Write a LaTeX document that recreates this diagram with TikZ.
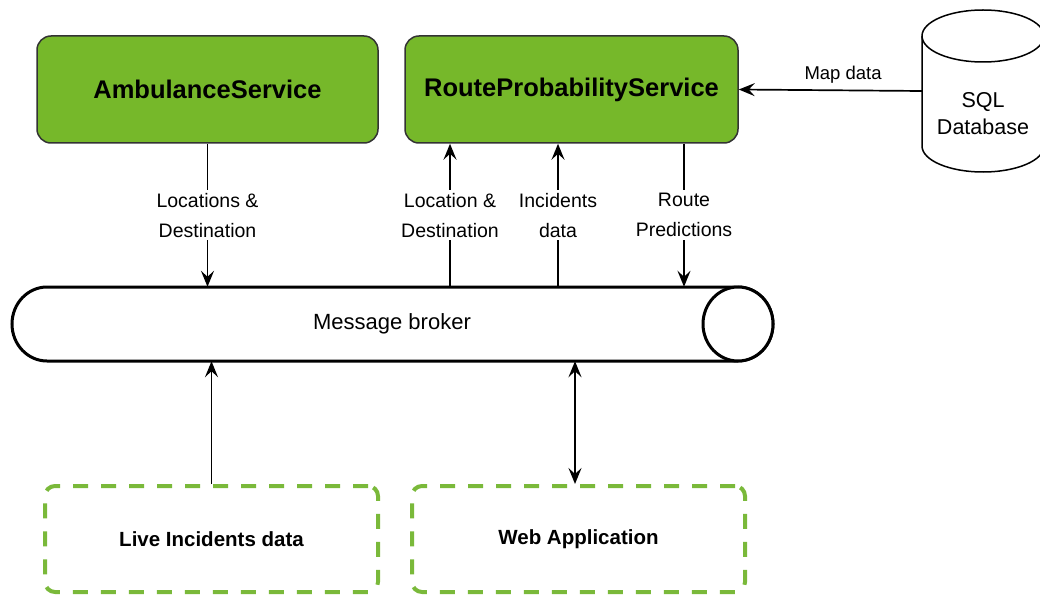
\documentclass[tikz,border=0pt]{standalone}
\usepackage{fontspec}
\setmainfont{Liberation Sans}
\usetikzlibrary{arrows.meta}
\definecolor{svcgreen}{HTML}{76B82A}
\definecolor{edgegray}{HTML}{333333}
\definecolor{dashgreen}{HTML}{7AB93A}

\begin{document}
\begin{tikzpicture}[x=1pt,y=-1pt,
  svc/.style={draw=edgegray, line width=1.5pt, fill=svcgreen, rounded corners=14pt,
    minimum height=107pt, inner sep=0pt,
    font=\fontsize{25.5}{30}\selectfont\bfseries},
  client/.style={draw=dashgreen, line width=4pt, dash pattern=on 15pt off 13pt,
    rounded corners=10pt, minimum width=333pt, minimum height=106pt, inner sep=0pt,
    font=\fontsize{20.5}{24}\selectfont\bfseries},
  lbl/.style={fill=white, align=center, inner sep=3pt,
    font=\fontsize{19.5}{30}\selectfont},
  arr/.style={line width=1.7pt, -{Stealth[length=16pt,width=13pt,inset=6pt]}},
  arrboth/.style={line width=1.7pt, {Stealth[length=16pt,width=13pt,inset=6pt]}-{Stealth[length=16pt,width=13pt,inset=6pt]}},
  shell/.style={draw=black, line width=1.5pt, fill=white},
  pipe/.style={draw=black, line width=3pt, fill=white}
]
\useasboundingbox (0,0) rectangle (1040,596);

% services
\node[svc, minimum width=341pt] (amb) at (207.5,89.5) {AmbulanceService};
\node[svc, minimum width=333pt] (rps) at (571.5,89.5) {RouteProbabilityService};

% database cylinder
\node[minimum width=122pt, minimum height=162pt, inner sep=0pt] (db) at (983,91) {};
\draw[shell] (922,36) -- (922,146)
  arc[start angle=180, end angle=0, x radius=61, y radius=26] -- (1044,36);
\draw[shell] (983,36) ellipse [x radius=61, y radius=26];
\node[align=center, font=\fontsize{21.5}{27}\selectfont] (dbtext) at (983,113.5) {SQL\\Database};

% message broker pipe
\node[minimum width=761pt, minimum height=74pt, inner sep=0pt] (broker) at (392.5,324) {};
\draw[pipe] (47,287)
  arc[start angle=270, end angle=90, x radius=35, y radius=37] -- (738,361)
  arc[start angle=90, end angle=-90, x radius=35, y radius=37] -- cycle;
\draw[pipe] (738,324) ellipse [x radius=35, y radius=37];
\node[font=\fontsize{22}{26}\selectfont] (brokertext) at (392,324) {Message broker};

% clients
\node[client] (live) at (211.5,539) {Live Incidents data};
\node[client] (web) at (578.5,539) {Web Application};

% columns of the vertical connectors
\coordinate (x450) at (450,0);
\coordinate (x558) at (558,0);
\coordinate (x684) at (684,0);
\coordinate (x575) at (575,0);

% connectors
\draw[arr] (amb.south) -- node[lbl] {Locations \&\\Destination} (amb.south |- broker.north);
\draw[arr] (broker.north -| x450) -- node[lbl] {Location \&\\Destination} (rps.south -| x450);
\draw[arr] (broker.north -| x558) -- node[lbl] {Incidents\\data} (rps.south -| x558);
\draw[arr] (rps.south -| x684) -- node[lbl] {Route\\Predictions} (broker.north -| x684);
\draw[arr] (db.west) -- node[pos=0.43, above=6pt, inner sep=0pt, font=\fontsize{18.5}{22}\selectfont] {Map data} (rps.east);
\draw[arr] (live.north) -- (live.north |- broker.south);
\draw[arrboth] (web.north -| x575) -- (broker.south -| x575);
\end{tikzpicture}
\end{document}
